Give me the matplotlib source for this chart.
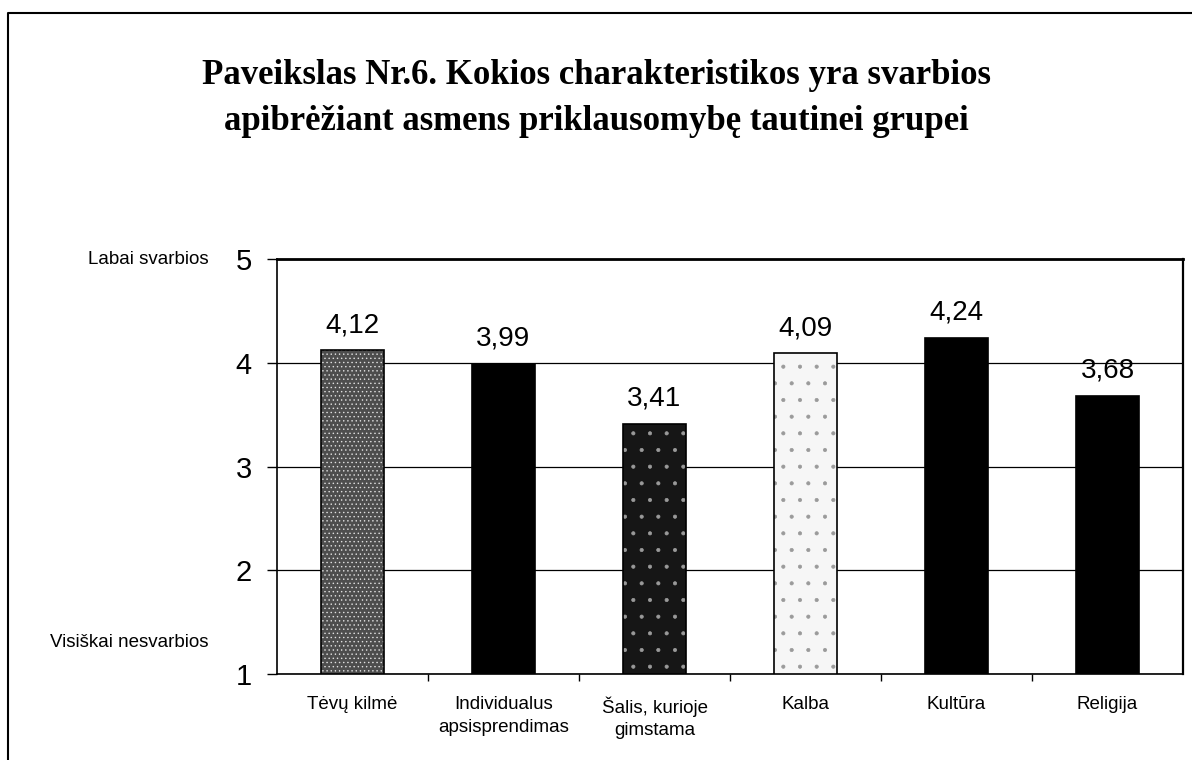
import matplotlib
matplotlib.use('Agg')
import matplotlib.pyplot as plt
import matplotlib.transforms as mtransforms
from matplotlib.lines import Line2D

categories = ['Tėvų kilmė', 'Individualus\napsisprendimas', 'Šalis, kurioje\ngimstama',
              'Kalba', 'Kultūra', 'Religija']
values = [4.12, 3.99, 3.41, 4.09, 4.24, 3.68]
value_labels = ['4,12', '3,99', '3,41', '4,09', '4,24', '3,68']
y_ticks = [1, 2, 3, 4, 5]
title_lines = ['Paveikslas Nr.6. Kokios charakteristikos yra svarbios',
               'apibrėžiant asmens priklausomybę tautinei grupei']

face = ['#4d4d4d', 'black', '#161616', '#f6f6f6', 'black', 'black']
hatches = ['....', None, '.', '.', None, None]
hatch_col = ['#e0e0e0', 'black', '#9a9a9a', '#9a9a9a', 'black', 'black']

plt.rcParams['font.family'] = ['Liberation Sans', 'DejaVu Sans']
plt.rcParams['hatch.linewidth'] = 0.5

fig = plt.figure(figsize=(11.92, 7.6), dpi=100)
ax = fig.add_axes([277 / 1192, 1 - 674 / 760, 906 / 1192, 415 / 760])

x = list(range(len(categories)))
base = [1] * len(values)
heights = [v - 1 for v in values]
for i in x:
    ax.bar(i, heights[i], bottom=1, width=0.42, color=face[i], hatch=hatches[i],
           edgecolor=hatch_col[i], linewidth=0, zorder=3)
ax.bar(x, heights, bottom=base, width=0.42, facecolor='none', edgecolor='black',
       linewidth=1.2, zorder=4)

for i in x:
    ax.annotate(value_labels[i], (i, values[i]), xytext=(0, 13), textcoords='offset points',
                ha='center', va='baseline', fontsize=20)

ax.set_xlim(-0.5, len(categories) - 0.5)
ax.set_ylim(1, 5)
ax.set_yticks(y_ticks)
ax.set_yticklabels([str(t) for t in y_ticks])
ax.set_xticks(x)
ax.set_xticklabels(categories, fontsize=13.5, linespacing=1.42)
ax.set_xticks([i + 0.5 for i in x[:-1]], minor=True)
ax.tick_params(axis='x', which='major', length=0, pad=16)
ax.tick_params(axis='x', which='minor', length=5, width=1, direction='out')
ax.tick_params(axis='y', length=7, width=1, pad=11, labelsize=21)
ax.yaxis.grid(True, color='black', linewidth=0.9)
ax.set_axisbelow(True)
for s in ax.spines.values():
    s.set_linewidth(1.2)
ax.spines['top'].set_linewidth(2)
ax.spines['right'].set_linewidth(1.6)

trans = mtransforms.blended_transform_factory(ax.transAxes, ax.transData)
ax.text(-0.076, 5, 'Labai svarbios', transform=trans, ha='right', va='center', fontsize=13.5)
ax.text(-0.076, 1.3, 'Visiškai nesvarbios', transform=trans, ha='right', va='center', fontsize=13.5)

for k, line in enumerate(title_lines):
    fig.text(0.5, 1 - (84 + 46 * k) / 760, line, ha='center', va='baseline', fontsize=25,
             fontweight='bold', family=['Liberation Serif', 'DejaVu Serif'])

# frame around the figure (left and top only, as in the scan)
fig.add_artist(Line2D([8 / 1192, 8 / 1192, 1], [0, 1 - 13 / 760, 1 - 13 / 760],
                      transform=fig.transFigure, color='black', linewidth=1.5))

fig.savefig('out.png', dpi=100)
